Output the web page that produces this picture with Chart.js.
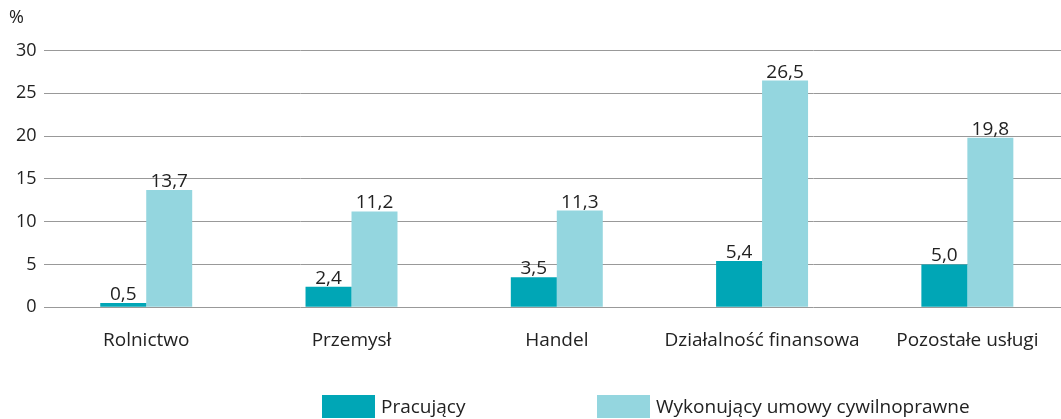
<!DOCTYPE html>
<html>
<head>
<meta charset="utf-8">
<script src="https://cdn.jsdelivr.net/npm/chart.js@4"></script>
<style>
  html, body { margin: 0; padding: 0; background: #fff; overflow: hidden; }
  #wrap { position: relative; width: 1061px; height: 419px; overflow: hidden; }
  #chart { position: absolute; left: 0; top: 0; }
  #legend { position: absolute; top: 393px; left: 0; width: 1061px; height: 24px; font-family: "Open Sans", sans-serif; font-size: 19px; color: #222; }
  .item { position: absolute; top: 0; display: flex; align-items: center; }
  .box { width: 53px; height: 23px; margin-right: 6px; }
</style>
</head>
<body>
<div id="wrap">
  <!-- wykres szerszy niż okno: linie siatki uciekają za prawą krawędź jak w oryginale -->
  <canvas id="chart" width="1072" height="419"></canvas>
  <div id="legend"></div>
</div>
<script>
const categories = ['Rolnictwo', 'Przemysł', 'Handel', 'Działalność finansowa', 'Pozostałe usługi'];
const pracujacy = [0.5, 2.4, 3.5, 5.4, 5.0];
const wykonujacy = [13.7, 11.2, 11.3, 26.5, 19.8];
const seriesNames = ['Pracujący', 'Wykonujący umowy cywilnoprawne'];
const colors = ['#00a6b6', '#94d6df'];

// etykiety wartości nad słupkami (przecinek dziesiętny)
const valueLabels = {
    id: 'valueLabels',
    afterDatasetsDraw(chart) {
        const ctx = chart.ctx;
        ctx.save();
        ctx.font = '19px "Open Sans", sans-serif';
        ctx.fillStyle = '#222';
        ctx.textAlign = 'center';
        ctx.textBaseline = 'alphabetic';
        chart.data.datasets.forEach((ds, i) => {
            chart.getDatasetMeta(i).data.forEach((bar, j) => {
                ctx.fillText(ds.data[j].toFixed(1).replace('.', ','), bar.x, bar.y - 3);
            });
        });
        ctx.restore();
    }
};

new Chart(document.getElementById('chart'), {
    type: 'bar',
    data: {
        labels: categories,
        datasets: [
            { label: seriesNames[0], data: pracujacy, backgroundColor: colors[0] },
            { label: seriesNames[1], data: wykonujacy, backgroundColor: colors[1] }
        ]
    },
    options: {
        responsive: false,
        animation: false,
        layout: { padding: { left: 9, right: 2, top: 0, bottom: 45 } },
        datasets: { bar: { categoryPercentage: 0.448, barPercentage: 1 } },
        plugins: {
            legend: { display: false },
            tooltip: { enabled: false },
            title: {
                display: true,
                text: '%',
                align: 'start',
                color: '#222',
                font: { family: '"Open Sans", sans-serif', size: 18, weight: 'normal' },
                padding: { top: 7, bottom: 22 }
            }
        },
        scales: {
            x: {
                grid: { display: false, drawTicks: false },
                border: { display: false },
                ticks: { color: '#222', font: { family: '"Open Sans", sans-serif', size: 19 }, padding: 22 }
            },
            y: {
                min: 0, max: 30,
                grid: { color: '#999', lineWidth: 1, drawTicks: false },
                border: { display: false },
                ticks: { stepSize: 5, color: '#222', font: { family: '"Open Sans", sans-serif', size: 18 }, padding: 7 }
            }
        }
    },
    plugins: [valueLabels]
});

// legenda HTML
const legend = document.getElementById('legend');
const legendX = [322, 597];
seriesNames.forEach((name, i) => {
    const el = document.createElement('div');
    el.className = 'item';
    el.style.left = legendX[i] + 'px';
    el.innerHTML = '<span class="box" style="background:' + colors[i] + '"></span><span>' + name + '</span>';
    legend.appendChild(el);
});
</script>
</body>
</html>
